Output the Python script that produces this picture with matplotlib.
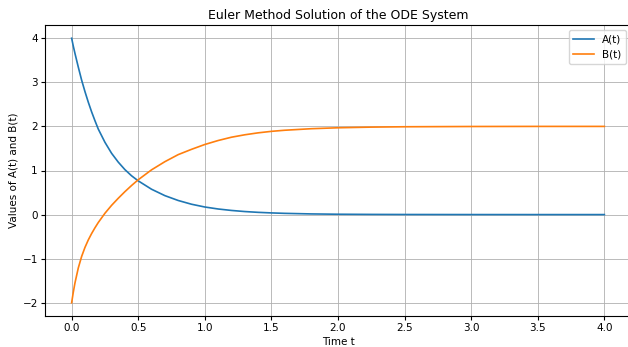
import numpy as np
from matplotlib import pyplot as plt

# valores
t = [0.0, 0.0125, 0.025, 0.05, 0.075, 0.1, 0.125, 0.15, 0.175, 0.2, 0.25, 0.3, 0.35,
     0.4, 0.45, 0.5, 0.6, 0.7, 0.8, 0.9, 1.0, 1.1, 1.2, 1.3, 1.4, 1.5, 1.6,
     1.8, 2.0, 2.25, 2.5, 3.0, 3.5, 4.0]
A = [4.0, 3.82, 3.655, 3.345, 3.05, 2.79, 2.55, 2.33, 2.13, 1.94, 1.64, 1.39, 1.19,
     1.02, 0.88, 0.765, 0.575, 0.43, 0.32, 0.235, 0.172, 0.127, 0.094, 0.069, 0.051, 0.038, 0.028,
     0.015, 0.008, 0.004, 0.002, 0.0005, 0.0, 0.0]
B = [-2.0, -1.76, -1.55, -1.21, -0.95, -0.745, -0.575, -0.43, -0.30, -0.18, 0.03, 0.21, 0.37,
     0.52, 0.66, 0.79, 1.015, 1.20, 1.36, 1.48, 1.59, 1.68, 1.755, 1.81, 1.854, 1.888, 1.913,
     1.948, 1.969, 1.984, 1.992, 1.998, 2.0, 2.0]

fig = plt.figure(figsize=(6.28, 3.47), dpi=100)
ax = fig.add_axes([45/628, 31/347, 586/628, 291/347])

ax.plot(t, A, label='A(t)', lw=1.2)
ax.plot(t, B, label='B(t)', lw=1.2)
ax.set_title('Euler Method Solution of the ODE System', fontsize=9, pad=4.5)
ax.set_xlabel('Time t', fontsize=7.5, labelpad=3)
ax.set_ylabel('Values of A(t) and B(t)', fontsize=7.5, labelpad=3)
ax.tick_params(labelsize=7.5, length=2.6, pad=2.6)
ax.set_xticks(np.arange(0, 4.01, 0.5))
ax.set_xlim(-0.2, 4.2)
ax.set_ylim(-2.3, 4.3)
ax.grid(True, lw=0.6)
ax.legend(loc='upper right', fontsize=7.5)

plt.savefig('out.png', dpi=100)
